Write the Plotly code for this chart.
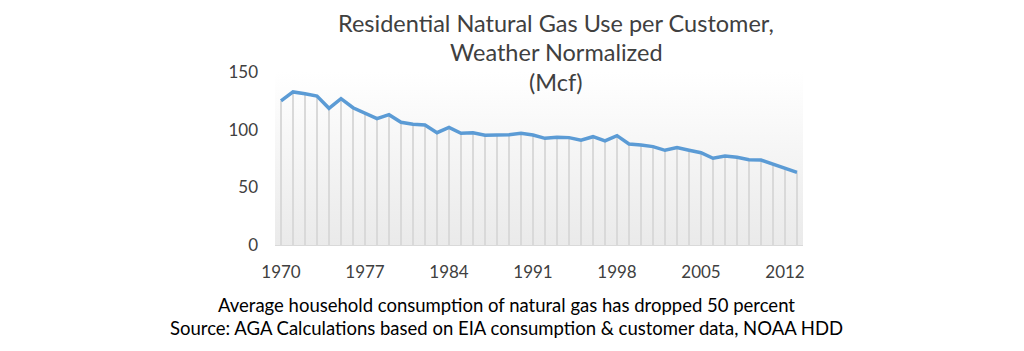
import plotly.graph_objects as go

years = list(range(1970, 2014))
use_mcf = [125.0, 132.7, 131.2, 129.2, 118.5, 126.9, 119.0, 114.2, 109.5, 113.0,
           106.4, 104.7, 104.1, 97.4, 102.0, 96.9, 97.4, 95.1, 95.1, 95.7,
           96.9, 95.4, 92.5, 93.4, 93.1, 90.8, 93.9, 90.2, 94.8, 87.6,
           86.7, 85.3, 82.1, 84.4, 82.1, 80.0, 75.2, 77.2, 76.1, 74.0,
           73.7, 70.0, 66.5, 63.0]
x_ticks = list(range(1970, 2013, 7))
y_ticks = [0, 50, 100, 150]

title_lines = ["Residential Natural Gas Use per Customer,", "Weather Normalized", "(Mcf)"]
caption_lines = ["Average household consumption of natural gas has dropped 50 percent",
                 "Source: AGA Calculations based on EIA consumption & customer data, NOAA HDD"]

FONT = "Lato"
x_lo, x_hi = years[0] - 0.5, years[-1] + 0.5
y_lo, y_hi = y_ticks[0], y_ticks[-1]

fig = go.Figure()

# gradient plot-area background
fig.add_trace(go.Scatter(
    x=[x_lo, x_hi, x_hi, x_lo, x_lo], y=[y_lo, y_lo, y_hi, y_hi, y_lo],
    mode="lines", line=dict(width=0), fill="toself",
    fillgradient=dict(type="vertical", colorscale=[[0, "#eaeaea"], [1, "#ffffff"]]),
    hoverinfo="skip", showlegend=False))

# drop lines
dx, dy = [], []
for yr, v in zip(years, use_mcf):
    dx += [yr, yr, None]
    dy += [0, v, None]
fig.add_trace(go.Scatter(x=dx, y=dy, mode="lines",
                         line=dict(color="#d9d9d9", width=2),
                         hoverinfo="skip", showlegend=False))

# main line
fig.add_trace(go.Scatter(x=years, y=use_mcf, mode="lines",
                         line=dict(color="#5b9bd5", width=3.5),
                         showlegend=False))

fig.update_layout(
    width=1024, height=351,
    margin=dict(l=275, r=221, t=72, b=106),
    paper_bgcolor="white", plot_bgcolor="white",
    font=dict(family=FONT, color="#404040", size=17),
    xaxis=dict(range=[x_lo, x_hi], tickvals=x_ticks, ticktext=[str(t) for t in x_ticks],
               showgrid=False, zeroline=False, showline=True, linecolor="#d9d9d9", linewidth=1,
               ticks="", ticklen=0, ticklabelstandoff=12,
               tickfont=dict(size=17, color="#404040")),
    yaxis=dict(range=[y_lo, y_hi], tickvals=y_ticks, showgrid=False, zeroline=False,
               showline=False, ticks="", ticklen=0, ticklabelstandoff=16,
               tickfont=dict(size=17, color="#404040")),
)

title_y = [23, 52, 82]
for txt, yp in zip(title_lines, title_y):
    fig.add_annotation(text=txt, xref="paper", yref="paper", x=(556 - 275) / 528,
                       y=1 - (yp - 72) / 173, xanchor="center", yanchor="middle",
                       showarrow=False, font=dict(size=23.5, color="#404040", family=FONT))

cap_y = [305, 328]
for txt, yp in zip(caption_lines, cap_y):
    fig.add_annotation(text=txt, xref="paper", yref="paper", x=(506 - 275) / 528,
                       y=1 - (yp - 72) / 173, xanchor="center", yanchor="middle",
                       showarrow=False, font=dict(size=18.5, color="#000000", family=FONT))

fig.write_html("out.html")
